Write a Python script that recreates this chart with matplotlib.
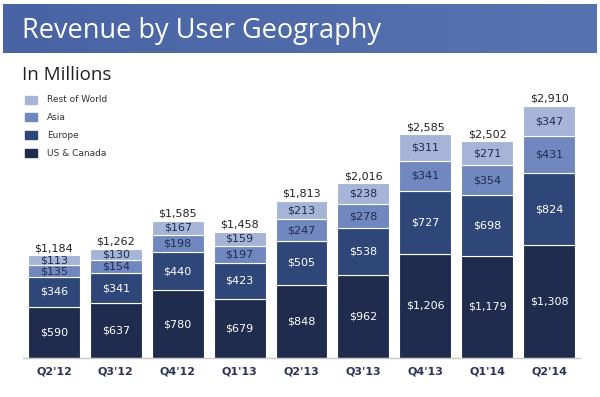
import matplotlib
matplotlib.use("Agg")
import matplotlib.pyplot as plt
import numpy as np
from matplotlib.colors import LinearSegmentedColormap

quarters = ["Q2'12", "Q3'12", "Q4'12", "Q1'13", "Q2'13", "Q3'13", "Q4'13", "Q1'14", "Q2'14"]
us_canada = [590, 637, 780, 679, 848, 962, 1206, 1179, 1308]
europe = [346, 341, 440, 423, 505, 538, 727, 698, 824]
asia = [135, 154, 198, 197, 247, 278, 341, 354, 431]
rest_of_world = [113, 130, 167, 159, 213, 238, 311, 271, 347]
totals = [1184, 1262, 1585, 1458, 1813, 2016, 2585, 2502, 2910]

series_names = ["US & Canada", "Europe", "Asia", "Rest of World"]
series_values = [us_canada, europe, asia, rest_of_world]
colors = ["#1f2c4e", "#2f4778", "#7088bf", "#a6b4d8"]
label_colors = ["white", "white", "#1f2c4e", "#1f2c4e"]

W, H = 600, 397
fig = plt.figure(figsize=(6, 3.97), dpi=100)
fig.patch.set_facecolor("white")
font = "DejaVu Sans"

# Title bar with gradient
tb = fig.add_axes([3 / W, 1 - 53 / H, 594 / W, 49 / H])
grad = np.linspace(0, 1, 256).reshape(1, -1)
cmap = LinearSegmentedColormap.from_list("tb", ["#4963a4", "#5773b0"])
tb.imshow(grad, aspect="auto", cmap=cmap, extent=[0, 1, 0, 1])
tb.set_axis_off()
fig.text(22 / W, 1 - 31 / H, "Revenue by User Geography", color="white",
         fontsize=19.5, family="Open Sans", va="center", ha="left")

fig.text(22 / W, 1 - 75 / H, "In Millions", color="#222222",
         fontsize=13.5, family="Open Sans", va="center", ha="left")

# Legend
leg_y = [153, 135, 117.5, 100]
for name, c, yy in zip(series_names, colors, leg_y):
    fig.patches.append(plt.Rectangle((25 / W, 1 - (yy + 4) / H), 12 / W, 8 / H,
                                     transform=fig.transFigure, color=c, figure=fig))
    fig.text(47 / W, 1 - yy / H, name, color="#333333", fontsize=6.5,
             family=font, va="center", ha="left")

# Chart axes
ax_left, ax_right = 23, 580
ax_bottom, ax_top = 358, 60
px_per_unit = 0.0866
ymax = (ax_bottom - ax_top) / px_per_unit
ax = fig.add_axes([ax_left / W, 1 - ax_bottom / H, (ax_right - ax_left) / W,
                   (ax_bottom - ax_top) / H])
ax.set_xlim(-0.5, 8.5)
ax.set_ylim(0, ymax)
x = np.arange(len(quarters))
bottom = np.zeros(len(quarters))
for vals, c, lc in zip(series_values, colors, label_colors):
    vals = np.array(vals)
    ax.bar(x, vals, bottom=bottom, width=0.84, color=c, edgecolor="white",
           linewidth=0.8)
    for xi, b, v in zip(x, bottom, vals):
        ax.text(xi, b + v / 2, f"${v:,}", ha="center", va="center",
                color=lc, fontsize=8, family=font)
    bottom += vals

for xi, t in zip(x, totals):
    ax.annotate(f"${t:,}", (xi, t), xytext=(0, 1.5), textcoords="offset points",
                ha="center", va="bottom", fontsize=8, color="#222222", family=font)

for s in ["top", "right", "left"]:
    ax.spines[s].set_visible(False)
ax.spines["bottom"].set_color("#c8c8c8")
ax.spines["bottom"].set_linewidth(1)
ax.set_yticks([])
ax.set_xticks(x)
ax.set_xticklabels(quarters, fontsize=8, fontweight="bold", color="#2b3553",
                   family=font)
ax.tick_params(axis="x", length=0, pad=6)
ax.set_facecolor("none")

fig.savefig("out.png", dpi=100, facecolor="white")
